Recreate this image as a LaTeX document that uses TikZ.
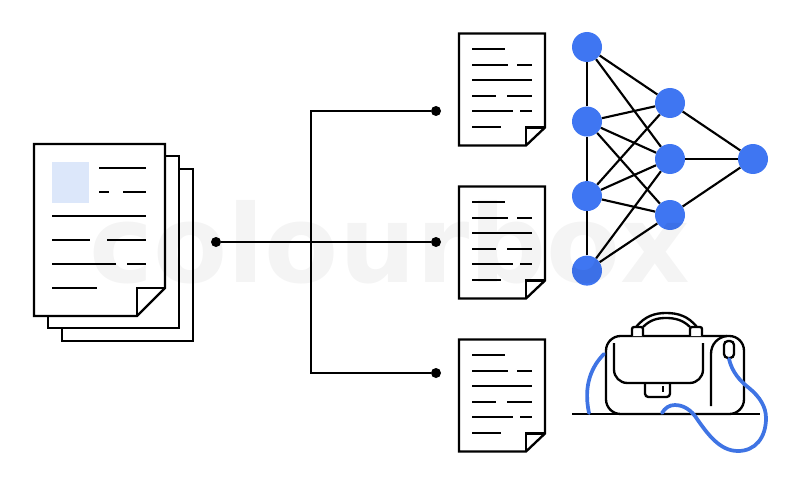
\documentclass[tikz,border=0pt]{standalone}
\usepackage{fontspec}
\usepackage{tikz}
\usetikzlibrary{positioning}
\newfontfamily\markfont{DejaVu Sans}
\definecolor{netblue}{HTML}{3F76F2}
\definecolor{strapblue}{HTML}{3F74E4}
\definecolor{paleblue}{HTML}{DCE7FA}
\tikzstyle{ink}=[draw=black, line width=1.75pt]
\tikzstyle{sheet}=[ink, fill=white, line join=miter]
\tikzstyle{neuron}=[circle, fill=netblue, minimum size=22.5pt, inner sep=0pt]
\tikzstyle{dot}=[circle, fill=black, minimum size=7.5pt, inner sep=0pt]
\tikzstyle{wire}=[draw=black, line width=1.6pt]
\tikzstyle{strap}=[draw=strapblue, line width=2.8pt, line cap=round]
\tikzset{
  pics/smalldoc/.style={code={
    \draw[sheet] (0,0) -- (86,0) -- (86,94) -- (67,112) -- (0,112) -- cycle;
    \draw[ink] (67,112) -- (67,94) -- (86,94);
    \draw[ink] (13,15.5) -- (46,15.5);
    \draw[ink] (13,31.5) -- (49,31.5) (58,31.5) -- (73,31.5);
    \draw[ink] (13,46.5) -- (73,46.5);
    \draw[ink] (13,62.5) -- (37,62.5) (48,62.5) -- (73,62.5);
    \draw[ink] (13,77.5) -- (53.5,77.5) (61,77.5) -- (73,77.5);
    \draw[ink] (13,93.5) -- (42,93.5);
  }}
}
\begin{document}
\begin{tikzpicture}[x=0.75pt, y=-0.75pt]
  \useasboundingbox (0,0) rectangle (800,485);

  % stack of pages
  \draw[sheet] (62,169) rectangle (193,341);
  \draw[sheet] (48,156) rectangle (179,328);
  \draw[sheet] (34,144) -- (165,144) -- (165,288) -- (137,316) -- (34,316) -- cycle;
  \draw[ink] (137,316) -- (137,288) -- (165,288);
  \fill[paleblue] (52,162) rectangle (89,203);
  \draw[ink] (99,168) -- (146,168);
  \draw[ink] (99,192) -- (109,192) (123,192) -- (146,192);
  \draw[ink] (52,216) -- (146,216);
  \draw[ink] (52,240) -- (90,240) (107,240) -- (146,240);
  \draw[ink] (52,264) -- (116,264) (127,264) -- (146,264);
  \draw[ink] (52,288) -- (97,288);

  % branches
  \node[dot] (start) at (216,242) {};
  \node[dot] (endA) at (436,111) {};
  \node[dot] (endB) [below of=endA, node distance=98.25pt] {};
  \node[dot] (endC) [below of=endB, node distance=98.25pt] {};
  \coordinate (split) at (311,242);
  \draw[wire] (start) -- (endB);
  \draw[wire, line join=miter] (endA) -| (split) |- (endC);

  \pic (docA) at (459,33.5) {smalldoc};
  \pic (docB) at (459,186.5) {smalldoc};
  \pic (docC) at (459,339.5) {smalldoc};

  % network
  \begin{scope}[node distance=55.9pt]
    \node[neuron] (i1) at (587,47) {};
    \node[neuron] (i2) [below of=i1] {} edge [wire] (i1);
    \node[neuron] (i3) [below of=i2] {} edge [wire] (i2);
    \node[neuron] (i4) [below of=i3] {} edge [wire] (i3);
  \end{scope}
  \begin{scope}[node distance=42pt]
    \node[neuron] (m2) at (670,159) {}
        edge [wire] (i1) edge [wire] (i2) edge [wire] (i3) edge [wire] (i4);
    \node[neuron] (m1) [above of=m2] {}
        edge [wire] (i1) edge [wire] (i2) edge [wire] (i3);
    \node[neuron] (m3) [below of=m2] {}
        edge [wire] (i2) edge [wire] (i3) edge [wire] (i4);
  \end{scope}
  \node[neuron] (out) [right of=m2, node distance=62.25pt] {}
      edge [wire] (m1) edge [wire] (m2) edge [wire] (m3);

  % bag
  \draw[ink, rounded corners=11pt] (606,336) rectangle (744,414);
  \draw[ink] (572,414) -- (760,414);
  \draw[ink, rounded corners=10pt] (614,343) -- (614,383) -- (703,383) -- (703,343);
  \draw[ink, rounded corners=2.5pt] (645,383) -- (645,397) -- (670,397) -- (670,383);
  \draw[ink] (663,386) -- (663,392);
  \draw[ink] (711,406) -- (711,354) .. controls (711,344) and (718,337) .. (727,336);
  \draw[ink, rounded corners=3pt] (724,341) rectangle (734,358);
  \draw[ink, fill=white, rounded corners=1.5pt] (632,336) -- (632,327) -- (643,327) -- (643,336);
  \draw[ink, fill=white, rounded corners=1.5pt] (690,336) -- (690,327) -- (702,327) -- (702,336);
  \draw[ink] (636,327) .. controls (645,316) and (655,313) .. (666,313) .. controls (678,313) and (688,316) .. (697,327);
  \draw[ink] (643,327) .. controls (650,320) and (657,318) .. (666,318) .. controls (675,318) and (683,320) .. (690,327);
  \draw[strap] (604,354) .. controls (592,366) and (583,385) .. (589,413);
  \draw[strap] (729,359) .. controls (732,372) and (740,381) .. (749,388)
      .. controls (760,397) and (766,407) .. (766,418)
      .. controls (766,438) and (755,451) .. (738,451)
      .. controls (720,451) and (708,435) .. (695,416)
      .. controls (688,407) and (680,405) .. (675,405)
      .. controls (669,405) and (665,408) .. (662,413);

  \node[text=black, text opacity=0.045, font=\markfont\bfseries\fontsize{81}{81}\selectfont, inner sep=0pt, anchor=base] (mark) at (390,282) {colourbox};
\end{tikzpicture}
\end{document}
